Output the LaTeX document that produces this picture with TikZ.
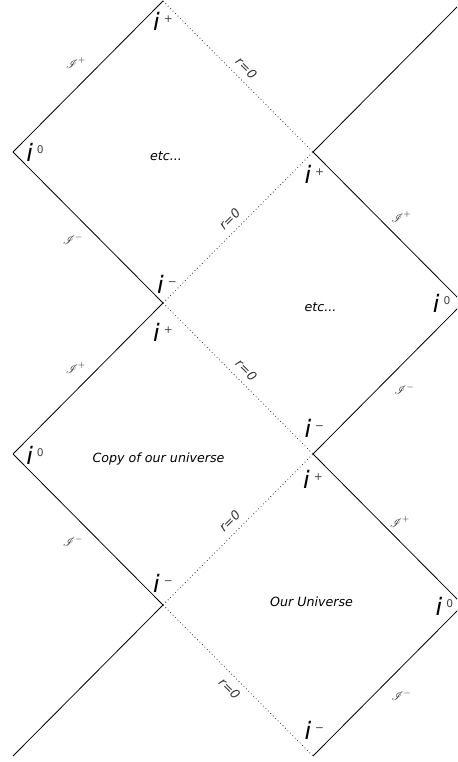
\documentclass[tikz,border=0pt]{standalone}
\usepackage{fontspec}
\setmainfont{DejaVu Sans}
\usepackage{amsmath,amssymb}
\usepackage{mathrsfs}
\usepackage{tikz}
\usetikzlibrary{positioning, calc}

% big italic i with a small upright index
\newcommand{\ipoint}[1]{{\fontsize{18}{18}\selectfont\itshape i}\kern3pt\raisebox{6pt}{\color{black!75}\fontsize{8}{8}\selectfont\upshape #1}}
\newcommand{\scri}[1]{$\mathscr{I}^{#1}$}

\begin{document}
\begin{tikzpicture}[x=112.5pt, y=113.25pt, font=\itshape\fontsize{9.5}{11}\selectfont,
    horizon/.style={line width=0.6pt, black},
    origin/.style={dotted, line width=0.6pt, black!80},
    ilab/.style={inner sep=0pt},
    scrilab/.style={inner sep=0pt, black!85, font=\fontsize{9}{9}\selectfont},
    rlab/.style={inner sep=0pt, sloped, font=\itshape\fontsize{9.5}{9.5}\selectfont}]

    \useasboundingbox (-0.0867,-0.0397) rectangle (2.96,5.0066);
    \clip (-0.0867,-0.0397) rectangle (2.96,5.0066);

    % Corners of the diamonds
    \coordinate (a) at (1,5);
    \coordinate (b) at (0,4);
    \coordinate (c) at (2,4);
    \coordinate (d) at (1,3);
    \coordinate (e) at (3,3);
    \coordinate (f) at (0,2);
    \coordinate (g) at (2,2);
    \coordinate (h) at (1,1);
    \coordinate (k) at (3,1);
    \coordinate (m) at (2,0);
    \coordinate (tr) at (3,5);
    \coordinate (bl) at (0,0);

    % Null boundaries (solid)
    \draw[horizon] (b) -- (a);
    \draw[horizon] (b) -- (d);
    \draw[horizon] (c) -- (e);
    \draw[horizon] (c) -- (tr);
    \draw[horizon] (e) -- (g);
    \draw[horizon] (d) -- (f);
    \draw[horizon] (f) -- (h);
    \draw[horizon] (g) -- (k);
    \draw[horizon] (k) -- (m);
    \draw[horizon] (h) -- (bl);

    % r=0 lines (dotted)
    \draw[origin] (a) -- node[rlab, above=5pt] (r1) {r=0} (c);
    \draw[origin] (d) -- node[rlab, above=5pt] (r2) {r=0} (c);
    \draw[origin] (d) -- node[rlab, above=5pt] (r3) {r=0} (g);
    \draw[origin] (h) -- node[rlab, above=5pt] (r4) {r=0} (g);
    \draw[origin] (h) -- node[rlab, below=5pt] (r5) {r=0} (m);

    % Points at infinity
    \node[ilab] (ia)  at ($(a)+(0,-15pt)$)     {\ipoint{+}};
    \node[ilab] (ib)  at ($(b)+(16.5pt,0)$)    {\ipoint{0}};
    \node[ilab] (ic)  at ($(c)+(1pt,-17pt)$)   {\ipoint{+}};
    \node[ilab] (id1) at ($(d)+(3pt,14pt)$)    {\ipoint{−}};
    \node[ilab] (id2) at ($(d)+(0,-22pt)$)     {\ipoint{+}};
    \node[ilab] (ie)  at ($(e)+(-16pt,0)$)     {\ipoint{0}};
    \node[ilab] (if)  at ($(f)+(16.5pt,-1pt)$) {\ipoint{0}};
    \node[ilab] (ig1) at ($(g)+(1pt,19pt)$)    {\ipoint{−}};
    \node[ilab] (ig2) at ($(g)+(0,-19pt)$)     {\ipoint{+}};
    \node[ilab] (ih)  at ($(h)+(0,16pt)$)      {\ipoint{−}};
    \node[ilab] (ik)  at ($(k)+(-14pt,-1pt)$)  {\ipoint{0}};
    \node[ilab] (im)  at ($(m)+(1pt,19pt)$)    {\ipoint{−}};

    % Null infinities
    \node[scrilab] (s1) at ($(b)!.5!(a)+(-0.08,0.09)$) {\scri{+}};
    \node[scrilab] (s2) at ($(b)!.5!(d)+(-0.1,-0.08)$) {\scri{-}};
    \node[scrilab] (s3) at ($(c)!.5!(e)+(0.09,0.07)$)  {\scri{+}};
    \node[scrilab] (s4) at ($(f)!.5!(d)+(-0.08,0.07)$) {\scri{+}};
    \node[scrilab] (s5) at ($(e)!.5!(g)+(0.11,-0.07)$) {\scri{-}};
    \node[scrilab] (s6) at ($(f)!.5!(h)+(-0.1,-0.08)$) {\scri{-}};
    \node[scrilab] (s7) at ($(g)!.5!(k)+(0.08,0.05)$)  {\scri{+}};
    \node[scrilab] (s8) at ($(k)!.5!(m)+(0.09,-0.1)$)  {\scri{-}};

    % Regions
    \node (etc1) at (1.02,3.97) {etc...};
    \node (etc2) at (2.05,2.97) {etc...};
    \node (copy) at (0.97,1.97) {Copy of our universe};
    \node (ours) at (1.99,1.02) {Our Universe};
\end{tikzpicture}
\end{document}
